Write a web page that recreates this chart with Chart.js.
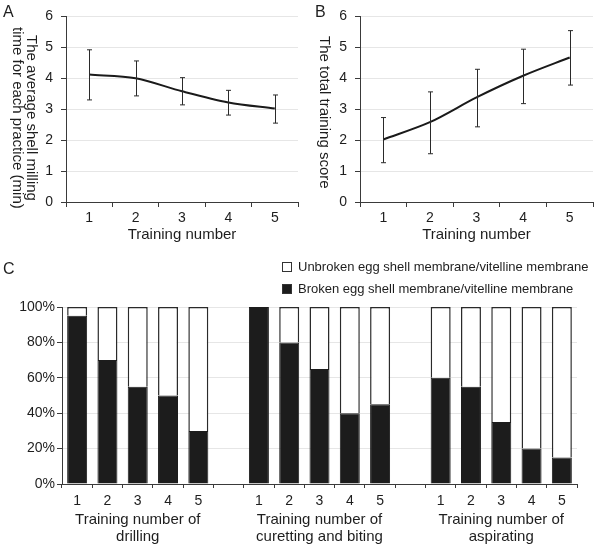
<!DOCTYPE html>
<html>
<head>
<meta charset="utf-8">
<script src="https://cdn.jsdelivr.net/npm/chart.js@4.4.1/dist/chart.umd.min.js"></script>
<style>
  html, body { margin: 0; padding: 0; background: #fff; }
  body { width: 600px; height: 547px; position: relative; overflow: hidden;
         font-family: "Liberation Sans", Arial, sans-serif; color: #1e1e1e; }
  .box { position: absolute; }
  .letter { position: absolute; font-size: 16px; line-height: 16px; }
  .ytitle { position: absolute; writing-mode: vertical-rl; text-align: center;
            font-size: 15px; line-height: 14px; white-space: nowrap; }
  .legend { position: absolute; left: 282px; font-size: 13px; line-height: 14px; }
  .legend div { height: 22px; display: flex; align-items: center; }
  .legend span.sq { display: inline-block; width: 8px; height: 8px; border: 1px solid #333;
                    margin-right: 6px; box-sizing: content-box; }
</style>
</head>
<body>
<div class="box" style="left:0;top:0;width:300px;height:250px"><canvas id="chartA"></canvas></div>
<div class="box" style="left:300px;top:0;width:300px;height:250px"><canvas id="chartB"></canvas></div>
<div class="box" style="left:0;top:250px;width:600px;height:297px"><canvas id="chartC"></canvas></div>

<div class="letter" style="left:3px;top:4px">A</div>
<div class="letter" style="left:315px;top:4px">B</div>
<div class="letter" style="left:3px;top:261px">C</div>

<div class="ytitle" style="left:11px;top:0;width:28px;height:236px">The average shell milling<br>time for each practice (min)</div>
<div class="ytitle" style="left:318px;top:0;width:14px;height:224px">The total training score</div>

<div class="legend" id="legendC" style="top:256px"></div>

<script>
/* ── DATA ── */
const trainingNumbers = ["1", "2", "3", "4", "5"];

// A: average shell milling time (min), mean and error bar ends
const millingMean = [4.12, 4.0, 3.58, 3.22, 3.02];
const millingLow = [3.3, 3.43, 3.14, 2.81, 2.55];
const millingHigh = [4.92, 4.56, 4.02, 3.61, 3.46];

// B: total training score
const scoreMean = [2.02, 2.58, 3.38, 4.08, 4.67];
const scoreLow = [1.27, 1.56, 2.43, 3.18, 3.78];
const scoreHigh = [2.73, 3.56, 4.29, 4.94, 5.54];

// C: percentages per training number
const drillingBroken = [95, 70, 55, 50, 30];
const drillingUnbroken = [5, 30, 45, 50, 70];
const curettingBroken = [100, 80, 65, 40, 45];
const curettingUnbroken = [0, 20, 35, 60, 55];
const aspiratingBroken = [60, 55, 35, 20, 15];
const aspiratingUnbroken = [40, 45, 65, 80, 85];

const groupNames = ["drilling", "curetting and biting", "aspirating"];
const brokenLabel = "Broken egg shell membrane/vitelline membrane";
const unbrokenLabel = "Unbroken egg shell membrane/vitelline membrane";
const percentTicks = [0, 20, 40, 60, 80, 100];

/* ── COMMON ── */
const FONT = "'Liberation Sans', Arial, sans-serif";
const TXT = "#1e1e1e";
const AXIS = "#3a3a3a";
const GRID = "#e6e6e6";
Chart.defaults.font.family = FONT;
Chart.defaults.color = TXT;
Chart.defaults.animation = false;

const errorBars = {
  id: "errorBars",
  afterDatasetsDraw(chart, args, opts) {
    if (!opts.low) return;
    const { ctx } = chart;
    const x = chart.scales.x, y = chart.scales.y;
    ctx.save();
    ctx.strokeStyle = "#2a2a2a";
    ctx.lineWidth = 1;
    opts.low.forEach((lo, i) => {
      const px = Math.round(x.getPixelForValue(i)) + 0.5;
      const yl = y.getPixelForValue(lo);
      const yh = y.getPixelForValue(opts.high[i]);
      ctx.beginPath();
      ctx.moveTo(px, yl); ctx.lineTo(px, yh);
      ctx.moveTo(px - 2.5, yl); ctx.lineTo(px + 2.5, yl);
      ctx.moveTo(px - 2.5, yh); ctx.lineTo(px + 2.5, yh);
      ctx.stroke();
    });
    ctx.restore();
  },
};

function lineChart(id, values, low, high, yWidth, padRight) {
  return new Chart(document.getElementById(id), {
    type: "line",
    data: {
      labels: trainingNumbers,
      datasets: [{
        data: values,
        borderColor: "#1a1a1a",
        borderWidth: 2,
        pointRadius: 0,
        tension: 0.3,
        fill: false,
      }],
    },
    plugins: [errorBars],
    options: {
      responsive: true,
      maintainAspectRatio: false,
      layout: { padding: { left: 0, top: 14, right: padRight, bottom: 0 } },
      plugins: {
        legend: { display: false },
        tooltip: { enabled: false },
        errorBars: { low: low, high: high },
      },
      scales: {
        x: {
          offset: true,
          grid: { offset: true, drawOnChartArea: false, tickLength: 5, tickColor: AXIS },
          border: { color: AXIS },
          ticks: { font: { size: 14 }, padding: 3, maxRotation: 0 },
          title: { display: true, text: "Training number", font: { size: 15 }, padding: { top: 0, bottom: 6 } },
          afterFit: (s) => { s.height = 48; },
        },
        y: {
          min: 0,
          max: 6,
          ticks: { stepSize: 1, font: { size: 14 }, padding: 8 },
          grid: { color: GRID, tickColor: AXIS, tickLength: 5 },
          border: { color: AXIS },
          afterFit: (s) => { s.width = yWidth; },
        },
      },
    },
  });
}

/* ── A & B ── */
lineChart("chartA", millingMean, millingLow, millingHigh, 66, 2);
lineChart("chartB", scoreMean, scoreLow, scoreHigh, 60, 7);

/* ── C: stacked bars ── */
const groupsBroken = [drillingBroken, curettingBroken, aspiratingBroken];
const groupsUnbroken = [drillingUnbroken, curettingUnbroken, aspiratingUnbroken];
const cLabels = [], cGroupLabels = [], cBroken = [], cUnbroken = [];
groupsBroken.forEach((g, gi) => {
  if (gi > 0) { cLabels.push(""); cGroupLabels.push(""); cBroken.push(null); cUnbroken.push(null); }
  trainingNumbers.forEach((t, i) => {
    cLabels.push(t);
    cGroupLabels.push(i === 2 ? ["Training number of", groupNames[gi]] : "");
    cBroken.push(g[i]);
    cUnbroken.push(groupsUnbroken[gi][i]);
  });
});

new Chart(document.getElementById("chartC"), {
  type: "bar",
  data: {
    labels: cLabels,
    datasets: [
      {
        label: brokenLabel,
        data: cBroken,
        backgroundColor: "#1c1c1c",
        borderColor: "#1c1c1c",
        borderWidth: 1,
        barPercentage: 0.66,
        categoryPercentage: 1,
      },
      {
        label: unbrokenLabel,
        data: cUnbroken,
        backgroundColor: "#ffffff",
        borderColor: "#2a2a2a",
        borderWidth: 1.5,
        barPercentage: 0.66,
        categoryPercentage: 1,
      },
    ],
  },
  options: {
    responsive: true,
    maintainAspectRatio: false,
    layout: { padding: { left: 0, top: 57, right: 23, bottom: 0 } },
    plugins: { legend: { display: false }, tooltip: { enabled: false } },
    scales: {
      x: {
        stacked: true,
        offset: true,
        grid: { offset: true, drawOnChartArea: false, tickLength: 4, tickColor: AXIS },
        border: { color: AXIS },
        ticks: { font: { size: 14 }, padding: 5, maxRotation: 0, autoSkip: false },
        afterFit: (s) => { s.height = 25; },
      },
      x2: {
        type: "category",
        position: "bottom",
        labels: cGroupLabels,
        offset: true,
        grid: { display: false, drawTicks: false },
        border: { display: false },
        ticks: { font: { size: 15, lineHeight: 1.1 }, padding: 3, maxRotation: 0, minRotation: 0, autoSkip: false },
        afterFit: (s) => { s.height = 38; },
      },
      y: {
        stacked: true,
        min: 0,
        max: 100,
        afterBuildTicks: (s) => { s.ticks = percentTicks.map((v) => ({ value: v })); },
        ticks: { font: { size: 14 }, padding: 2, callback: (v) => v + "%" },
        grid: { color: GRID, tickColor: AXIS, tickLength: 5 },
        border: { color: AXIS },
        afterFit: (s) => { s.width = 62; },
      },
    },
  },
});

/* legend (two rows, left aligned) */
const legendC = document.getElementById("legendC");
[[unbrokenLabel, "#ffffff"], [brokenLabel, "#1c1c1c"]].forEach(([text, fill]) => {
  const row = document.createElement("div");
  const sq = document.createElement("span");
  sq.className = "sq";
  sq.style.background = fill;
  row.appendChild(sq);
  row.appendChild(document.createTextNode(text));
  legendC.appendChild(row);
});
</script>
</body>
</html>
